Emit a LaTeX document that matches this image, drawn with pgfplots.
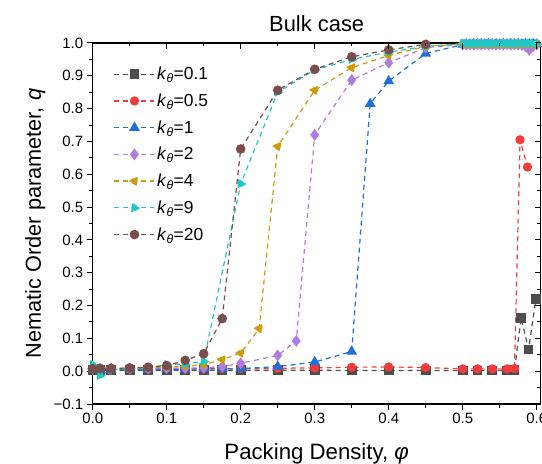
\documentclass[border=0pt]{standalone}
\usepackage{fontspec}
\setmainfont{Liberation Sans}
\usepackage{pgfplots}
\pgfplotsset{compat=1.18}
\definecolor{cgray}{HTML}{4D4D4D}
\definecolor{cred}{HTML}{F23B3B}
\definecolor{cblue}{HTML}{1E6FD9}
\definecolor{cpurple}{HTML}{B07CE0}
\definecolor{cgold}{HTML}{CF9B0A}
\definecolor{ccyan}{HTML}{1EC8C8}
\definecolor{cbrown}{HTML}{7A4D4D}
\pgfplotsset{
  ser/.style={dash pattern=on 5bp off 4bp, line width=1.2bp, mark options={solid}},
}
\begin{document}
\begin{tikzpicture}
\begin{axis}[
  at={(0,0)}, anchor=south west,
  scale only axis, width=448bp, height=361bp,
  xmin=0, xmax=0.6054, ymin=-0.1, ymax=1.0,
  axis line style={line width=1.1bp},
  xtick={0,0.1,0.2,0.3,0.4,0.5,0.6},
  xticklabels={0.0,0.1,0.2,0.3,0.4,0.5,0.6},
  ytick={-0.1,0,0.1,0.2,0.3,0.4,0.5,0.6,0.7,0.8,0.9,1.0},
  yticklabels={−0.1,0.0,0.1,0.2,0.3,0.4,0.5,0.6,0.7,0.8,0.9,1.0},
  minor x tick num=1, minor y tick num=1,
  tick align=outside, xtick pos=bottom, ytick pos=left,
  major tick length=6bp, minor tick length=3.5bp,
  every tick/.style={black, line width=1bp},
  /pgf/number format/assume math mode=true,
  tick label style={font=\fontsize{15}{17}\selectfont},
  title={Bulk case},
  title style={at={(axis description cs:0.5,1.0166)}, anchor=base, font=\fontsize{22}{25}\selectfont, inner sep=0pt},
  xlabel={Packing Density, \textit{φ}},
  xlabel style={at={(axis description cs:0.5,-0.1551)}, anchor=base, font=\fontsize{22.3}{25}\selectfont, inner sep=0pt},
  ylabel={Nematic Order parameter, \textit{q}},
  ylabel style={at={(axis description cs:-0.1154,0.5)}, anchor=base, font=\fontsize{21.8}{24}\selectfont, inner sep=0pt},
  legend style={draw=none, fill=none, at={(axis description cs:0,1)}, anchor=north west,
    xshift=18bp, yshift=-20bp, font=\fontsize{17.5}{19}\selectfont, row sep=8.6bp, cells={anchor=west}},
  legend image code/.code={\draw[#1, mark repeat=2, mark phase=2] plot coordinates {(0bp,0bp) (20bp,0bp) (40bp,0bp)};},
]
\addplot[ser, color=cgray, mark=square*, mark size=4.3bp] coordinates {
(0,0.003) (0.01,0.003) (0.025,0.003) (0.05,0.003) (0.075,0.003) (0.1,0.003) (0.125,0.003) (0.15,0.003) (0.175,0.003) (0.2,0.003) (0.25,0.003) (0.3,0.003) (0.35,0.002) (0.4,0.002) (0.45,0.002) (0.5,0.002) (0.52,0.002) (0.54,0.002) (0.56,0.002) (0.57,0.003) (0.579,0.163) (0.589,0.066) (0.599,0.221)};
\addlegendentry{\textit{k}\textsubscript{\textit{θ}}=0.1}
\addplot[ser, color=cred, mark=*, mark size=4bp] coordinates {
(0,0.008) (0.01,0.008) (0.025,0.008) (0.05,0.008) (0.075,0.008) (0.1,0.008) (0.125,0.008) (0.15,0.008) (0.175,0.008) (0.2,0.008) (0.25,0.009) (0.3,0.01) (0.35,0.012) (0.4,0.013) (0.45,0.011) (0.5,0.007) (0.52,0.007) (0.54,0.007) (0.56,0.007) (0.57,0.008) (0.5775,0.705) (0.5875,0.622)};
\addlegendentry{\textit{k}\textsubscript{\textit{θ}}=0.5}
\addplot[ser, color=cblue, mark=triangle*, mark size=5bp] coordinates {
(0,0.006) (0.01,0.006) (0.025,0.006) (0.05,0.006) (0.075,0.006) (0.1,0.006) (0.125,0.006) (0.15,0.007) (0.175,0.007) (0.2,0.008) (0.25,0.014) (0.3,0.028) (0.35,0.06) (0.375,0.815) (0.4,0.884) (0.45,0.968) (0.5,0.995)
(0.505,0.996) (0.51,0.996) (0.515,0.997) (0.52,0.996) (0.525,0.997) (0.53,0.996) (0.535,0.997) (0.54,0.996) (0.545,0.997) (0.55,0.996) (0.555,0.997) (0.56,0.996) (0.565,0.997) (0.57,0.996) (0.575,0.997) (0.58,0.996) (0.585,0.997) (0.59,0.996) (0.595,0.997) (0.6,0.996)};
\addlegendentry{\textit{k}\textsubscript{\textit{θ}}=1}
\addplot[ser, color=cpurple, mark=diamond*, mark size=5bp] coordinates {
(0,0.008) (0.01,0.008) (0.025,0.008) (0.05,0.008) (0.075,0.008) (0.1,0.009) (0.125,0.009) (0.15,0.01) (0.175,0.014) (0.2,0.024) (0.25,0.048) (0.275,0.092) (0.3,0.72) (0.35,0.887) (0.4,0.94) (0.45,0.986) (0.5,0.995)
(0.505,0.995) (0.51,0.996) (0.515,0.995) (0.52,0.996) (0.525,0.995) (0.53,0.996) (0.535,0.995) (0.54,0.996) (0.545,0.995) (0.55,0.996) (0.555,0.995) (0.56,0.996) (0.565,0.995) (0.57,0.996) (0.575,0.995) (0.58,0.994) (0.585,0.99) (0.59,0.979) (0.595,0.99) (0.6,0.995)};
\addlegendentry{\textit{k}\textsubscript{\textit{θ}}=2}
\addplot[ser, color=cgold, mark=triangle*, mark options={rotate=90}, mark size=5bp] coordinates {
(0,0.008) (0.01,0.008) (0.025,0.008) (0.05,0.008) (0.075,0.01) (0.1,0.012) (0.125,0.015) (0.15,0.02) (0.175,0.035) (0.2,0.055) (0.225,0.13) (0.25,0.685) (0.3,0.856) (0.35,0.925) (0.4,0.962) (0.45,0.99) (0.5,0.997)
(0.505,0.996) (0.51,0.997) (0.515,0.996) (0.52,0.997) (0.525,0.996) (0.53,0.997) (0.535,0.996) (0.54,0.997) (0.545,0.996) (0.55,0.997) (0.555,0.996) (0.56,0.997) (0.565,0.996) (0.57,0.997) (0.575,0.996) (0.58,0.997) (0.585,0.996) (0.59,0.997) (0.595,0.996) (0.6,0.997)};
\addlegendentry{\textit{k}\textsubscript{\textit{θ}}=4}
\addplot[ser, color=ccyan, mark=triangle*, mark options={rotate=-90}, mark size=5bp] coordinates {
(0,0.02) (0.01,-0.013) (0.025,0.005) (0.05,0.008) (0.075,0.01) (0.1,0.02) (0.125,0.022) (0.15,0.03) (0.2,0.571) (0.25,0.85) (0.3,0.918) (0.35,0.95) (0.4,0.972) (0.45,0.99) (0.5,0.998)
(0.505,0.999) (0.51,0.998) (0.515,0.999) (0.52,0.998) (0.525,0.999) (0.53,0.998) (0.535,0.999) (0.54,0.998) (0.545,0.999) (0.55,0.998) (0.555,0.999) (0.56,0.998) (0.565,0.999) (0.57,0.998) (0.575,0.999) (0.58,0.998) (0.585,0.999) (0.59,0.998) (0.595,0.999) (0.6,0.998)};
\addlegendentry{\textit{k}\textsubscript{\textit{θ}}=9}
\addplot[ser, color=cbrown, mark=*, mark size=4.2bp] coordinates {
(0,0.008) (0.01,0.008) (0.025,0.008) (0.05,0.01) (0.075,0.012) (0.1,0.017) (0.125,0.033) (0.15,0.053) (0.175,0.16) (0.2,0.677) (0.25,0.856) (0.3,0.92) (0.35,0.958) (0.4,0.979) (0.45,0.996)};
\addlegendentry{\textit{k}\textsubscript{\textit{θ}}=20}
\end{axis}
\begin{axis}[
  at={(0,0)}, anchor=south west,
  scale only axis, width=448bp, height=361bp,
  xmin=0, xmax=0.6054, ymin=-0.1, ymax=1.0,
  axis line style={draw=none},
  xtick={0,0.1,0.2,0.3,0.4,0.5,0.6},
  ytick={-0.1,0,0.1,0.2,0.3,0.4,0.5,0.6,0.7,0.8,0.9,1.0},
  xticklabels={}, yticklabels={},
  minor x tick num=1, minor y tick num=1,
  tick align=inside, xtick pos=top, ytick pos=right,
  major tick length=6bp, minor tick length=3.5bp,
  every tick/.style={black, line width=1bp},
]
\end{axis}
\pgfresetboundingbox
\useasboundingbox (-92.7bp,-60bp) rectangle (449.3bp,404bp);
\end{tikzpicture}
\end{document}
